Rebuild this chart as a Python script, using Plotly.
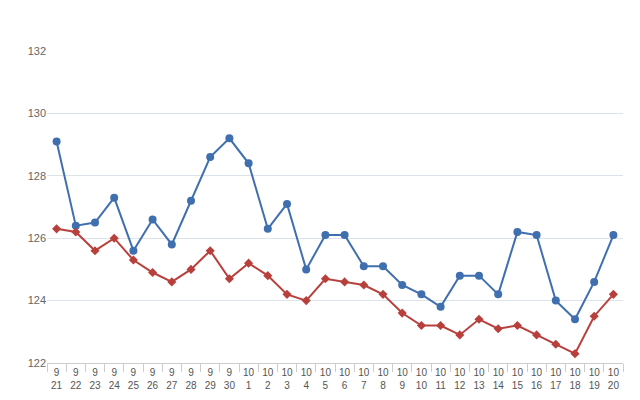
import plotly.graph_objects as go

labels = ["9<br>21","9<br>22","9<br>23","9<br>24","9<br>25","9<br>26","9<br>27","9<br>28","9<br>29","9<br>30",
          "10<br>1","10<br>2","10<br>3","10<br>4","10<br>5","10<br>6","10<br>7","10<br>8","10<br>9","10<br>10",
          "10<br>11","10<br>12","10<br>13","10<br>14","10<br>15","10<br>16","10<br>17","10<br>18","10<br>19","10<br>20"]
blue = [129.1,126.4,126.5,127.3,125.6,126.6,125.8,127.2,128.6,129.2,
        128.4,126.3,127.1,125.0,126.1,126.1,125.1,125.1,124.5,124.2,
        123.8,124.8,124.8,124.2,126.2,126.1,124.0,123.4,124.6,126.1]
red = [126.3,126.2,125.6,126.0,125.3,124.9,124.6,125.0,125.6,124.7,
       125.2,124.8,124.2,124.0,124.7,124.6,124.5,124.2,123.6,123.2,
       123.2,122.9,123.4,123.1,123.2,122.9,122.6,122.3,123.5,124.2]

fig = go.Figure()
fig.add_trace(go.Scatter(x=labels, y=blue, mode="lines+markers",
    line=dict(color="#3f6faf", width=2), marker=dict(symbol="circle", size=8, color="#3f6faf")))
fig.add_trace(go.Scatter(x=labels, y=red, mode="lines+markers",
    line=dict(color="#b8403c", width=2), marker=dict(symbol="diamond", size=7, color="#b8403c")))
fig.update_layout(width=640, height=400, margin=dict(l=39, r=25, t=43, b=45),
    plot_bgcolor="white", paper_bgcolor="white", showlegend=False,
    font=dict(family="Liberation Sans, Arial", size=11, color="#555"))
fig.update_xaxes(type="category", tickson="boundaries", ticks="outside", ticklen=8,
    tickangle=0, tickfont=dict(size=10),
    tickcolor="#ccc", showline=True, linecolor="#ccc", showgrid=False, range=[-0.5, 29.5])
fig.update_yaxes(range=[122, 132], dtick=2, gridcolor="#dde3ea", showline=False, zeroline=False,
    tickfont=dict(color="#666"))
fig.write_html("out.html")
